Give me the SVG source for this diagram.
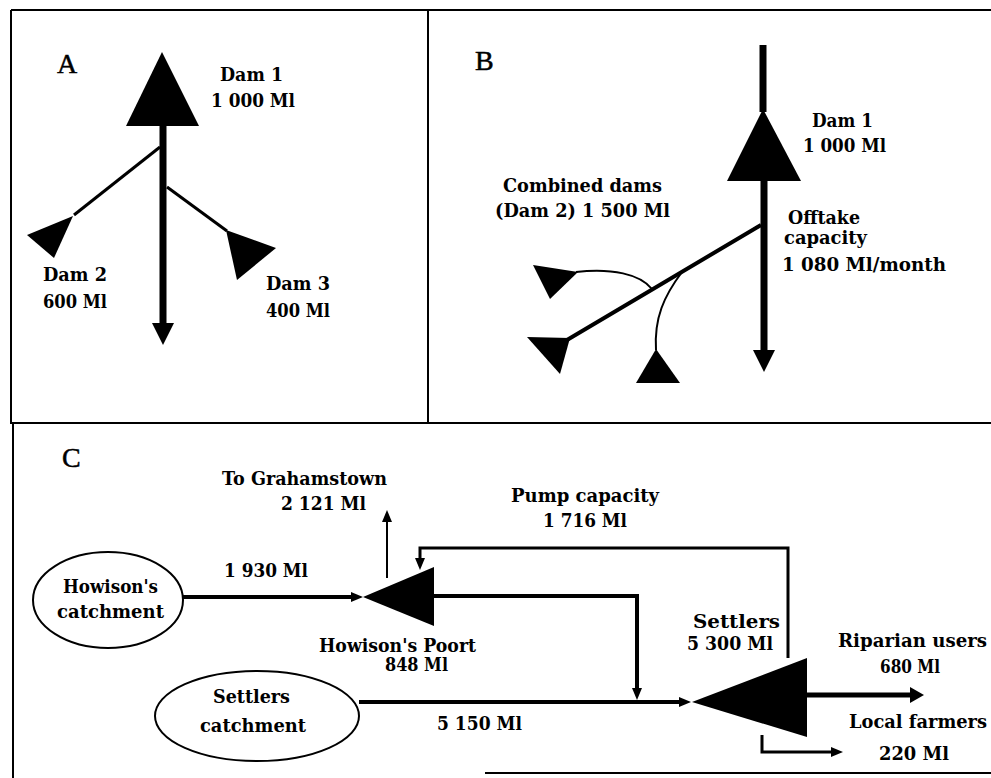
<svg xmlns="http://www.w3.org/2000/svg" width="991" height="778" viewBox="0 0 991 778">
<defs>
<style>
.frame{stroke:#000;stroke-width:2;fill:none}
.dam{fill:#000;stroke:none}
.lbl{font-family:"DejaVu Serif","Liberation Serif",serif;font-weight:bold;font-size:18px;fill:#000}
.big{font-family:"Liberation Serif","Times New Roman",serif;font-size:28px;fill:#000;stroke:#000;stroke-width:0.5}
.thick{stroke:#000;stroke-width:7;fill:none}
.med{stroke:#000;stroke-width:4;fill:none}
.thin{stroke:#000;stroke-width:3;fill:none}
.hair{stroke:#000;stroke-width:2;fill:none}
.catch{fill:#fff;stroke:#000;stroke-width:2}
</style>
<marker id="bigHead" markerUnits="userSpaceOnUse" viewBox="0 0 22 22" markerWidth="22" markerHeight="22" refX="2" refY="11" orient="auto">
<path d="M0,0 L22,11 L0,22 Z" fill="#000"/>
</marker>
<marker id="head" markerUnits="userSpaceOnUse" viewBox="0 0 12 10" markerWidth="12" markerHeight="10" refX="1" refY="5" orient="auto">
<path d="M0,0 L12,5 L0,10 Z" fill="#000"/>
</marker>
<marker id="headL" markerUnits="userSpaceOnUse" viewBox="0 0 14 16" markerWidth="14" markerHeight="16" refX="1" refY="8" orient="auto">
<path d="M0,0 L14,8 L0,16 Z" fill="#000"/>
</marker>
</defs>
<rect width="991" height="778" fill="#fff"/>

<g id="frames" class="frame">
<path d="M11,10 H991"/>
<path d="M11,10 V424"/>
<path d="M428,10 V423"/>
<path d="M11,423 H991"/>
<path d="M13,423 V778"/>
<path d="M485,773 H991"/>
</g>

<g id="panel-labels">
<text class="big" x="57" y="73">A</text>
<text class="big" x="475" y="70">B</text>
<text class="big" x="62" y="467">C</text>
</g>

<g id="connectors">
<path class="thick" d="M163,126 V325" marker-end="url(#bigHead)"/>
<path class="thin" d="M160,147 L74,215"/>
<path class="thin" d="M167,187 L227,231"/>
<path class="thick" d="M763,45 V112"/>
<path class="thick" d="M764,180 V352" marker-end="url(#bigHead)"/>
<path class="med" d="M761,225 L567,340"/>
<path class="hair" d="M576,272 C612,268 640,274 652,289"/>
<path class="hair" d="M656,350 C654,318 664,296 682,272"/>
<path class="med" d="M183,597 H352" marker-end="url(#head)"/>
<path class="hair" d="M387,578 V521" marker-end="url(#head)"/>
<path class="thin" d="M788,658 V548 H420 V559" marker-end="url(#head)"/>
<path class="med" d="M434,596 H637 V689" marker-end="url(#head)"/>
<path class="med" d="M359,702 H680" marker-end="url(#head)"/>
<path class="thick" style="stroke-width:5" d="M807,695 H911" marker-end="url(#headL)"/>
<path class="thin" d="M762,735 V752 H832" marker-end="url(#head)"/>
</g>

<g id="A-dam1">
<polygon class="dam" points="162,52 126,126 199,126"/>
<text class="lbl" x="220" y="81" textLength="63" lengthAdjust="spacingAndGlyphs">Dam 1</text>
<text class="lbl" x="211" y="107" textLength="84" lengthAdjust="spacingAndGlyphs">1 000 Ml</text>
</g>
<g id="A-dam2">
<polygon class="dam" points="73,216 27,235 54,258"/>
<text class="lbl" x="43" y="281" textLength="64" lengthAdjust="spacingAndGlyphs">Dam 2</text>
<text class="lbl" x="43" y="308" textLength="64" lengthAdjust="spacingAndGlyphs">600 Ml</text>
</g>
<g id="A-dam3">
<polygon class="dam" points="226,230 276,248 237,280"/>
<text class="lbl" x="266" y="290" textLength="64" lengthAdjust="spacingAndGlyphs">Dam 3</text>
<text class="lbl" x="266" y="317" textLength="64" lengthAdjust="spacingAndGlyphs">400 Ml</text>
</g>

<g id="B-dam1">
<polygon class="dam" points="763,109 727,181 801,181"/>
<text class="lbl" x="812" y="127" textLength="61" lengthAdjust="spacingAndGlyphs">Dam 1</text>
<text class="lbl" x="803" y="152" textLength="83" lengthAdjust="spacingAndGlyphs">1 000 Ml</text>
</g>
<g id="B-combined">
<polygon class="dam" points="533,265 578,272 550,299"/>
<polygon class="dam" points="527,337 570,338 560,374"/>
<polygon class="dam" points="656,349 636,383 680,383"/>
<text class="lbl" x="503" y="192" textLength="159" lengthAdjust="spacingAndGlyphs">Combined dams</text>
<text class="lbl" x="495" y="217" textLength="175" lengthAdjust="spacingAndGlyphs">(Dam 2) 1 500 Ml</text>
</g>
<g id="B-offtake">
<text class="lbl" x="788" y="224" textLength="72" lengthAdjust="spacingAndGlyphs">Offtake</text>
<text class="lbl" x="784" y="244" textLength="83" lengthAdjust="spacingAndGlyphs">capacity</text>
<text class="lbl" x="782" y="271" textLength="164" lengthAdjust="spacingAndGlyphs">1 080 Ml/month</text>
</g>

<g id="C-howisons-catchment">
<ellipse class="catch" cx="108" cy="600" rx="75" ry="48"/>
<text class="lbl" x="63" y="593" textLength="95" lengthAdjust="spacingAndGlyphs">Howison's</text>
<text class="lbl" x="57" y="618" textLength="107" lengthAdjust="spacingAndGlyphs">catchment</text>
</g>
<g id="C-settlers-catchment">
<ellipse class="catch" cx="257" cy="716" rx="102" ry="45"/>
<text class="lbl" x="213" y="703" textLength="77" lengthAdjust="spacingAndGlyphs">Settlers</text>
<text class="lbl" x="200" y="732" textLength="106" lengthAdjust="spacingAndGlyphs">catchment</text>
</g>
<g id="C-howisons-poort">
<polygon class="dam" points="363,597 434,567 434,626"/>
<text class="lbl" x="319" y="652" textLength="157" lengthAdjust="spacingAndGlyphs">Howison's Poort</text>
<text class="lbl" x="385" y="671" textLength="63" lengthAdjust="spacingAndGlyphs">848 Ml</text>
</g>
<g id="C-settlers">
<polygon class="dam" points="692,702 807,658 807,737"/>
<text class="lbl" x="693" y="628" textLength="87" lengthAdjust="spacingAndGlyphs">Settlers</text>
<text class="lbl" x="687" y="650" textLength="86" lengthAdjust="spacingAndGlyphs">5 300 Ml</text>
</g>
<g id="C-grahamstown">
<text class="lbl" x="222" y="485" textLength="165" lengthAdjust="spacingAndGlyphs">To Grahamstown</text>
<text class="lbl" x="281" y="510" textLength="85" lengthAdjust="spacingAndGlyphs">2 121 Ml</text>
</g>
<g id="C-flow-labels">
<text class="lbl" x="224" y="577" textLength="84" lengthAdjust="spacingAndGlyphs">1 930 Ml</text>
<text class="lbl" x="437" y="730" textLength="85" lengthAdjust="spacingAndGlyphs">5 150 Ml</text>
</g>
<g id="C-pump">
<text class="lbl" x="511" y="502" textLength="148" lengthAdjust="spacingAndGlyphs">Pump capacity</text>
<text class="lbl" x="543" y="527" textLength="84" lengthAdjust="spacingAndGlyphs">1 716 Ml</text>
</g>
<g id="C-riparian">
<text class="lbl" x="838" y="647" textLength="149" lengthAdjust="spacingAndGlyphs">Riparian users</text>
<text class="lbl" x="880" y="673" textLength="60" lengthAdjust="spacingAndGlyphs">680 Ml</text>
</g>
<g id="C-farmers">
<text class="lbl" x="849" y="728" textLength="138" lengthAdjust="spacingAndGlyphs">Local farmers</text>
<text class="lbl" x="879" y="760" textLength="70" lengthAdjust="spacingAndGlyphs">220 Ml</text>
</g>
</svg>
